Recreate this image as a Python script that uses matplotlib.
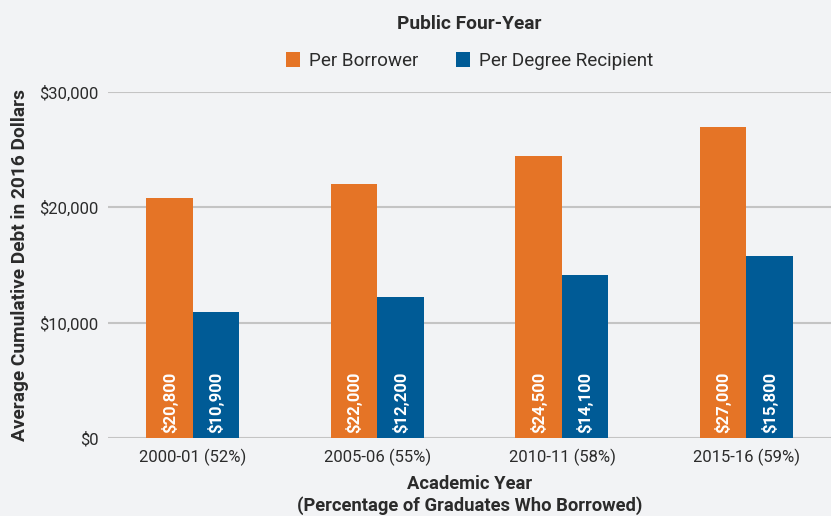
import matplotlib.pyplot as plt
import numpy as np

years = ["2000-01 (52%)", "2005-06 (55%)", "2010-11 (58%)", "2015-16 (59%)"]
per_borrower = [20800, 22000, 24500, 27000]
per_recipient = [10900, 12200, 14100, 15800]

ORANGE = "#e57426"
BLUE = "#005b96"
BG = "#f2f3f5"
TEXT = "#2b2b2b"

plt.rcParams["font.family"] = ["Roboto", "DejaVu Sans"]

fig = plt.figure(figsize=(8.31, 5.16), dpi=100, facecolor=BG)
ax = fig.add_axes([0.130, 0.151, 0.870, 0.6705], facecolor=BG)

x = np.arange(len(years))
w = 0.252
b1 = ax.bar(x - w / 2, per_borrower, w, color=ORANGE, label="Per Borrower", zorder=3)
b2 = ax.bar(x + w / 2, per_recipient, w, color=BLUE, label="Per Degree Recipient", zorder=3)

# value labels written vertically at the foot of each bar
for bars, vals in ((b1, per_borrower), (b2, per_recipient)):
    for b, v in zip(bars, vals):
        ax.text(b.get_x() + b.get_width() / 2, 450, f"${v:,}", rotation=90,
                ha="center", va="bottom", color="white", fontsize=12,
                fontweight="bold", zorder=4)

ax.set_xlim(-0.46, 3.458)
ax.set_ylim(0, 30000)
ax.set_yticks([0, 10000, 20000, 30000])
ax.set_yticklabels([f"${v:,}" for v in [0, 10000, 20000, 30000]])
ax.set_xticks(x)
ax.set_xticklabels(years)
ax.tick_params(length=0, labelsize=12, colors=TEXT, pad=8)
ax.tick_params(axis="y", pad=7)
ax.grid(axis="y", color="#c4c4c4", linewidth=1.5, zorder=0)
for s in ax.spines.values():
    s.set_visible(False)

ax.set_ylabel("Average Cumulative Debt in 2016 Dollars", fontsize=13.8,
              fontweight="bold", color=TEXT, labelpad=7)

# two-line x axis title, placed under the tick labels
xmid = 0.130 + 0.870 / 2
fig.text(xmid, 0.062, "Academic Year", ha="center", va="center",
         fontsize=13.2, fontweight="bold", color=TEXT)
fig.text(xmid, 0.020, "(Percentage of Graduates Who Borrowed)", ha="center",
         va="center", fontsize=13.2, fontweight="bold", color=TEXT)

fig.text(0.565, 0.953, "Public Four-Year", ha="center", va="center",
         fontsize=13.8, fontweight="bold", color=TEXT)
ax.legend(loc="lower center", bbox_to_anchor=(0.5, 1.015), ncol=2,
          frameon=False, fontsize=13.6, handlelength=0.75, handleheight=0.9,
          columnspacing=2.0, handletextpad=0.45, labelcolor=TEXT)

fig.savefig("out.png", dpi=100, facecolor=BG)
